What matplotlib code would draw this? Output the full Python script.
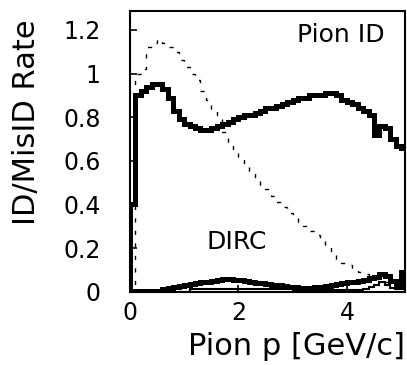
import numpy as np
import matplotlib
matplotlib.use("Agg")
import matplotlib.pyplot as plt

#___________DATA (bins of 0.1 GeV/c)_______________
p_edges = np.linspace(0, 5.1, 52)

pion_id = [0.40, 0.90, 0.92, 0.94, 0.95, 0.95, 0.93, 0.89, 0.83, 0.79,
           0.77, 0.76, 0.75, 0.74, 0.74, 0.75, 0.76, 0.77, 0.78, 0.79,
           0.80, 0.81, 0.81, 0.82, 0.83, 0.84, 0.84, 0.85, 0.86, 0.87,
           0.88, 0.89, 0.89, 0.90, 0.90, 0.90, 0.91, 0.91, 0.90, 0.88,
           0.87, 0.86, 0.84, 0.83, 0.81, 0.72, 0.76, 0.75, 0.70, 0.67, 0.66]

dashed_rate = [0.00, 1.00, 1.02, 1.12, 1.14, 1.16, 1.14, 1.12, 1.10, 1.06,
               1.03, 1.00, 0.97, 0.92, 0.88, 0.83, 0.79, 0.73, 0.68, 0.64,
               0.61, 0.57, 0.55, 0.52, 0.49, 0.47, 0.44, 0.41, 0.39, 0.36,
               0.34, 0.32, 0.30, 0.28, 0.26, 0.23, 0.21, 0.17, 0.15, 0.13,
               0.12, 0.10, 0.09, 0.08, 0.07, 0.06, 0.05, 0.045, 0.04, 0.03, 0.03]

misid_upper = [0.005, 0.005, 0.005, 0.005, 0.005, 0.005, 0.01, 0.015, 0.02, 0.025,
               0.03, 0.035, 0.04, 0.042, 0.045, 0.05, 0.055, 0.058, 0.058, 0.055,
               0.053, 0.05, 0.045, 0.04, 0.04, 0.035, 0.032, 0.03, 0.025, 0.022,
               0.02, 0.018, 0.018, 0.018, 0.02, 0.022, 0.025, 0.03, 0.036, 0.04,
               0.045, 0.045, 0.05, 0.055, 0.062, 0.068, 0.082, 0.07, 0.05, 0.022, 0.09]

misid_lower = [0.0] * 11 + [0.012] * 19 + [0.008] * 13 + \
              [0.012, 0.02, 0.03, 0.045, 0.03, 0.015, 0.01, 0.01]

y_ticks = [0, 0.2, 0.4, 0.6, 0.8, 1.0, 1.2]
x_ticks = [0, 2, 4]

#___________PLOT_______________
plt.rcParams['font.family'] = ['DejaVu Sans']

fig = plt.figure(figsize=(4.07, 3.65), dpi=100)
ax = fig.add_axes([0.319, 0.201, 0.676, 0.769])

ax.stairs(pion_id, p_edges, baseline=0, color="black", lw=3.6)
ax.stairs(dashed_rate, p_edges, baseline=None, color="black", lw=1.0,
          linestyle=(0, (3, 6)))
ax.stairs(misid_upper, p_edges, baseline=None, color="black", lw=3.6)
ax.stairs(misid_lower, p_edges, baseline=None, color="black", lw=1.5)

ax.set_xlim(0, 5.07)
ax.set_ylim(0, 1.287)
ax.set_xticks(x_ticks)
ax.set_yticks(y_ticks)
ax.set_yticklabels(["%g" % t for t in y_ticks])
ax.tick_params(direction="in", length=5, width=1.2, labelsize=17,
               top=False, right=False)
ax.tick_params(axis="y", pad=21)
ax.tick_params(axis="x", pad=7)
for s in ax.spines.values():
    s.set_linewidth(1.5)

ax.text(4.7, 1.145, "Pion ID", fontsize=18, ha="right", va="baseline")
ax.text(1.42, 0.195, "DIRC", fontsize=18, ha="left", va="baseline")

fig.text(0.995, 0.027, "Pion p [GeV/c]", fontsize=22, ha="right", va="baseline")
fig.text(0.064, 0.665, "ID/MisID Rate", fontsize=22, rotation=90,
         ha="center", va="center")

fig.savefig("out.png", dpi=100)
